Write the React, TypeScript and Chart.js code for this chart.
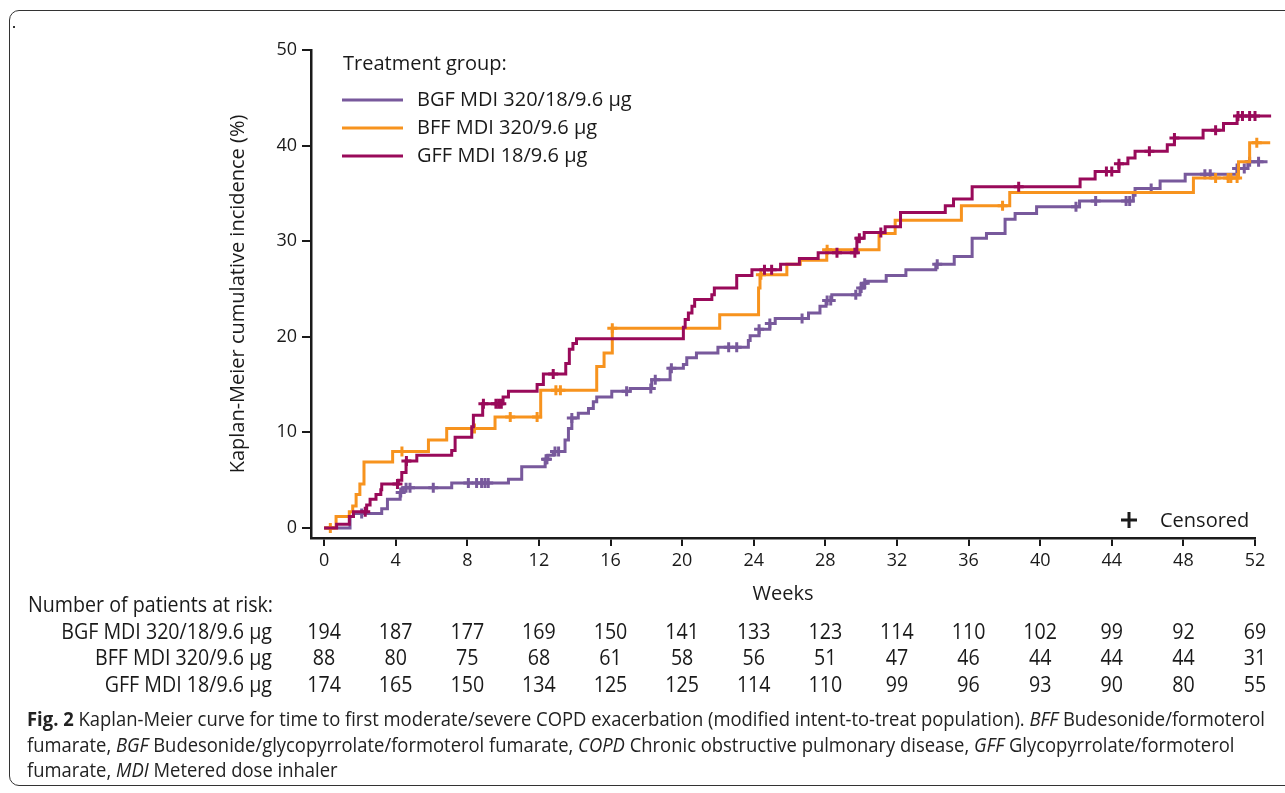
import React, { useEffect, useRef } from "react";
import { Chart, registerables } from "chart.js";

Chart.register(...registerables);

// ---------- data ----------
const weekTicks = [0, 4, 8, 12, 16, 20, 24, 28, 32, 36, 40, 44, 48, 52];
const pctTicks = [0, 10, 20, 30, 40, 50];

const groupNames = ["BGF MDI 320/18/9.6 µg", "BFF MDI 320/9.6 µg", "GFF MDI 18/9.6 µg"];
const groupColors = ["#78599c", "#f7931e", "#990a5a"];

const bgfWeeks = [0, 1.45, 1.64, 3.22, 3.54, 4.25, 4.43, 7.13, 10.3, 11.04, 12.35, 12.5, 12.8, 13.46, 13.65, 13.84, 14.2, 14.77, 15.04, 15.23, 16.07, 17.1, 18.3, 19.33, 20.07, 20.26, 20.8, 22.0, 23.7, 23.8, 24.3, 24.9, 25.2, 27.06, 27.7, 28.04, 28.36, 29.94, 30.13, 30.28, 31.4, 32.5, 34.17, 35.2, 36.2, 37.0, 38.04, 38.6, 39.8, 42.2, 45.2, 45.3, 46.7, 48.1, 51.0, 51.6, 52.7];
const bgfPct = [0, 1.2, 1.5, 2.0, 3.0, 3.7, 4.2, 4.7, 5.1, 6.4, 7.2, 7.6, 8.0, 9.2, 10.4, 11.5, 12.0, 12.5, 13.2, 13.7, 14.3, 14.6, 15.5, 16.7, 17.1, 17.8, 18.3, 18.9, 19.6, 20.1, 20.8, 21.4, 21.9, 22.5, 23.2, 23.8, 24.4, 25.1, 25.6, 25.8, 26.4, 27.0, 27.6, 28.4, 30.3, 30.8, 32.3, 32.9, 33.6, 34.2, 34.8, 35.5, 36.3, 37.0, 37.6, 38.3, 38.3];
const bgfCensored = [2.1, 4.28, 4.58, 4.8, 6.1, 8.06, 8.52, 8.8, 8.99, 9.17, 12.4, 12.45, 12.9, 13.1, 13.84, 16.9, 18.25, 18.5, 19.4, 22.6, 23.05, 24.3, 24.9, 26.7, 28.1, 28.3, 29.7, 30.0, 30.2, 34.25, 42.0, 43.1, 44.8, 45.0, 46.2, 49.2, 49.5, 51.0, 51.4, 51.7, 52.2, 52.5, 52.7];

const bffWeeks = [0, 0.67, 1.41, 1.6, 1.79, 2.0, 2.23, 3.83, 5.83, 6.85, 9.55, 12.1, 15.23, 15.64, 16.1, 22.1, 24.27, 24.35, 25.85, 26.6, 28.08, 31.0, 31.9, 35.6, 38.3, 48.56, 51.08, 51.7, 52.85];
const bffPct = [0, 1.2, 1.7, 2.3, 3.5, 4.6, 6.9, 8.0, 9.2, 10.4, 11.6, 14.4, 16.9, 18.3, 20.9, 22.3, 25.1, 26.5, 27.6, 28.0, 29.1, 30.8, 32.2, 33.7, 35.1, 36.6, 38.3, 40.3, 40.3];
const bffCensored = [0.35, 4.35, 8.4, 10.4, 11.9, 12.95, 13.2, 16.1, 24.4, 28.1, 37.9, 49.8, 50.5, 50.65, 51.0, 52.1, 52.35, 52.55, 52.8];

const gffWeeks = [0, 0.7, 1.41, 1.64, 2.38, 2.57, 2.9, 3.17, 3.22, 4.15, 4.34, 4.58, 5.18, 7.13, 7.32, 8.25, 8.34, 8.86, 10.0, 10.3, 11.9, 12.25, 13.5, 13.7, 13.9, 14.1, 20.07, 20.17, 20.35, 20.55, 20.7, 21.66, 21.8, 23.05, 23.9, 25.5, 26.55, 27.6, 29.76, 30.17, 31.34, 32.2, 34.7, 35.16, 36.2, 42.23, 43.07, 44.4, 44.9, 45.3, 47.1, 47.5, 49.1, 50.24, 51.0, 52.9];
const gffPct = [0, 0.4, 1.2, 1.7, 2.4, 3.0, 3.5, 4.0, 4.6, 5.0, 5.8, 7.0, 7.6, 8.1, 9.5, 10.6, 11.8, 13.0, 13.7, 14.3, 15.0, 16.1, 17.2, 18.7, 19.3, 19.8, 21.0, 21.8, 22.5, 23.2, 23.9, 24.4, 25.1, 26.4, 27.0, 27.6, 28.2, 28.8, 30.3, 30.9, 31.5, 33.0, 33.7, 34.4, 35.7, 36.5, 37.3, 38.1, 38.7, 39.4, 40.1, 40.8, 41.6, 42.3, 43.1, 43.1];
const gffCensored = [2.3, 4.1, 4.6, 8.9, 9.6, 9.75, 9.9, 12.8, 24.6, 25.0, 28.65, 29.65, 29.9, 31.1, 38.8, 43.7, 44.0, 44.4, 46.1, 47.5, 49.8, 51.05, 51.3, 51.7, 52.0, 52.2, 52.5, 52.75];

const atRiskBGF = [194, 187, 177, 169, 150, 141, 133, 123, 114, 110, 102, 99, 92, 69];
const atRiskBFF = [88, 80, 75, 68, 61, 58, 56, 51, 47, 46, 44, 44, 44, 31];
const atRiskGFF = [174, 165, 150, 134, 125, 125, 114, 110, 99, 96, 93, 90, 80, 55];

const legendTitle = "Treatment group:";
const censoredLabel = "Censored";
const atRiskTitle = "Number of patients at risk:";
const xTitle = "Weeks";
const yTitle = "Kaplan-Meier cumulative incidence (%)";

type Run = { t: string; b?: boolean; i?: boolean };
const captionLines: Run[][] = [
  [
    { t: "Fig. 2", b: true },
    { t: " Kaplan-Meier curve for time to first moderate/severe COPD exacerbation (modified intent-to-treat population). " },
    { t: "BFF", i: true },
    { t: " Budesonide/formoterol" },
  ],
  [
    { t: "fumarate, " },
    { t: "BGF", i: true },
    { t: " Budesonide/glycopyrrolate/formoterol fumarate, " },
    { t: "COPD", i: true },
    { t: " Chronic obstructive pulmonary disease, " },
    { t: "GFF", i: true },
    { t: " Glycopyrrolate/formoterol" },
  ],
  [{ t: "fumarate, " }, { t: "MDI", i: true }, { t: " Metered dose inhaler" }],
];

// ---------- helpers ----------
const valueAt = (weeks: number[], vals: number[], t: number) => {
  let v = vals[0];
  for (let i = 0; i < weeks.length; i++) if (weeks[i] <= t) v = vals[i];
  return v;
};

const series = [
  { weeks: bgfWeeks, pct: bgfPct, cens: bgfCensored },
  { weeks: bffWeeks, pct: bffPct, cens: bffCensored },
  { weeks: gffWeeks, pct: gffPct, cens: gffCensored },
];
const atRiskRows = [atRiskBGF, atRiskBFF, atRiskGFF];

const INK = "#1a1a1a";
const SANS = "'Open Sans', 'Noto Sans', sans-serif";

const overlayPlugin = {
  id: "overlay",
  afterDraw(chart: any) {
    const ctx: CanvasRenderingContext2D = chart.ctx;
    const xs = chart.scales.x;
    ctx.save();
    ctx.fillStyle = INK;
    ctx.textBaseline = "middle";
    ctx.textAlign = "left";

    // legend
    ctx.font = `20px ${SANS}`;
    ctx.fillText(legendTitle, 343, 64);
    groupNames.forEach((name, i) => {
      const y = 100 + i * 28;
      ctx.strokeStyle = groupColors[i];
      ctx.lineWidth = 3;
      ctx.beginPath();
      ctx.moveTo(342, y);
      ctx.lineTo(403, y);
      ctx.stroke();
      ctx.fillText(name, 417, y);
    });

    // censored key
    ctx.strokeStyle = INK;
    ctx.lineWidth = 3;
    ctx.beginPath();
    ctx.moveTo(1129, 512);
    ctx.lineTo(1129, 528);
    ctx.moveTo(1121, 520);
    ctx.lineTo(1137, 520);
    ctx.stroke();
    ctx.fillText(censoredLabel, 1160, 521);

    // at-risk table
    ctx.font = `21px ${SANS}`;
    const sx = 245 / ctx.measureText(atRiskTitle).width;
    const drawScaled = (text: string, x: number, y: number, align: CanvasTextAlign) => {
      ctx.save();
      ctx.translate(x, y);
      ctx.scale(sx, 1);
      ctx.textAlign = align;
      ctx.fillText(text, 0, 0);
      ctx.restore();
    };
    drawScaled(atRiskTitle, 28, 606, "left");
    const rowY = [633, 659, 686];
    groupNames.forEach((name, r) => {
      drawScaled(name, 272, rowY[r], "right");
      atRiskRows[r].forEach((n, k) => {
        drawScaled(String(n), xs.getPixelForValue(weekTicks[k]), rowY[r], "center");
      });
    });

    // caption
    const cSize = 20;
    const fontFor = (run: Run) => `${run.i ? "italic " : ""}${run.b ? "bold " : ""}${cSize}px ${SANS}`;
    const lineWidth = (runs: Run[]) =>
      runs.reduce((acc, run) => {
        ctx.font = fontFor(run);
        return acc + ctx.measureText(run.t).width;
      }, 0);
    const csx = 1238 / lineWidth(captionLines[0]);
    const capY = [720, 746, 771];
    ctx.fillStyle = "#222";
    captionLines.forEach((runs, li) => {
      let x = 27;
      runs.forEach((run) => {
        ctx.font = fontFor(run);
        const w = ctx.measureText(run.t).width;
        ctx.save();
        ctx.translate(x, capY[li]);
        ctx.scale(csx, 1);
        ctx.textAlign = "left";
        ctx.fillText(run.t, 0, 0);
        ctx.restore();
        x += w * csx;
      });
    });
    ctx.restore();
  },
};

const zeroPad = (s: any) => {
  s.paddingLeft = 0;
  s.paddingRight = 0;
  s.paddingTop = 0;
  s.paddingBottom = 0;
};

export default function App() {
  const ref = useRef<HTMLCanvasElement>(null);
  useEffect(() => {
    document.body.style.margin = "0";
    const datasets: any[] = [];
    series.forEach((s, i) => {
      datasets.push({
        label: groupNames[i],
        data: s.weeks.map((w, k) => ({ x: w, y: s.pct[k] })),
        stepped: "before",
        borderColor: groupColors[i],
        borderWidth: 3,
        pointRadius: 0,
        fill: false,
        clip: false,
        order: 3 - i,
      });
      datasets.push({
        label: groupNames[i] + " censored",
        data: s.cens.map((w) => ({ x: w, y: valueAt(s.weeks, s.pct, w) })),
        showLine: false,
        pointStyle: "cross",
        pointRadius: 5,
        pointBorderWidth: 3,
        borderColor: groupColors[i],
        backgroundColor: groupColors[i],
        clip: false,
        order: 3 - i,
      });
    });

    const chart = new Chart(ref.current!, {
      type: "line",
      data: { datasets },
      plugins: [overlayPlugin],
      options: {
        animation: false,
        responsive: false,
        devicePixelRatio: 1,
        layout: { padding: { top: 50, right: 30, bottom: 187, left: 0 } },
        plugins: { legend: { display: false }, tooltip: { enabled: false } },
        scales: {
          x: {
            type: "linear",
            min: -0.73,
            max: 52,
            afterBuildTicks: (s: any) => {
              s.ticks = weekTicks.map((v) => ({ value: v }));
            },
            afterFit: (s: any) => {
              s.height = 68;
              zeroPad(s);
            },
            ticks: { color: INK, font: { family: SANS, size: 18 }, padding: 4, maxRotation: 0, autoSkip: false },
            grid: { drawOnChartArea: false, drawTicks: true, tickLength: 8, color: INK, lineWidth: 2 },
            border: { display: true, color: INK, width: 2.5 },
            title: { display: true, text: xTitle, color: INK, font: { family: SANS, size: 20 }, padding: { top: 0, bottom: 0 } },
          },
          y: {
            type: "linear",
            min: -1.05,
            max: 50,
            afterBuildTicks: (s: any) => {
              s.ticks = pctTicks.map((v) => ({ value: v }));
            },
            afterFit: (s: any) => {
              s.width = 311;
              zeroPad(s);
            },
            ticks: { color: INK, font: { family: SANS, size: 18 }, padding: 5 },
            grid: { drawOnChartArea: false, drawTicks: true, tickLength: 9, color: INK, lineWidth: 2 },
            border: { display: true, color: INK, width: 2.5 },
            title: { display: true, text: yTitle, color: INK, font: { family: SANS, size: 20 }, padding: { top: 226, bottom: 0 } },
          },
        },
      } as any,
    });
    return () => chart.destroy();
  }, []);

  return (
    <div style={{ position: "relative", width: 1285, height: 793, overflow: "hidden", background: "#fff" }}>
      <div
        style={{
          position: "absolute",
          left: 9,
          top: 10,
          width: 1300,
          height: 776,
          border: "1.5px solid #333",
          borderRadius: 10,
          boxSizing: "border-box",
        }}
      />
      <div style={{ position: "absolute", left: 13, top: 26, width: 2, height: 2, background: "#333" }} />
      <canvas ref={ref} width={1285} height={793} style={{ position: "absolute", left: 0, top: 0 }} />
    </div>
  );
}
